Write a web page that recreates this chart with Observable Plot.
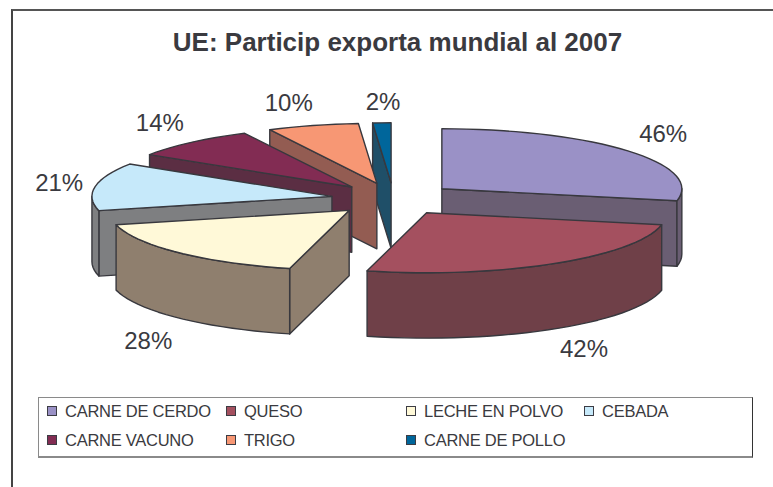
<!DOCTYPE html>
<html lang="es">
<head>
<meta charset="utf-8">
<script src="https://cdn.jsdelivr.net/npm/d3@7"></script>
<script src="https://cdn.jsdelivr.net/npm/@observablehq/plot@0.6"></script>
<style>
  html, body { margin: 0; background: #fff; }
  body { width: 773px; height: 487px; overflow: hidden; font-family: "Liberation Sans", Arial, sans-serif; color: #3a3a40; }
  #page { position: relative; width: 773px; height: 487px; }
  #frame { position: absolute; left: 11px; top: 9px; right: 0; bottom: 0; border-left: 2px solid #444; border-top: 2px solid #555; }
  #title { position: absolute; left: 0; width: 795px; top: 27px; height: 30px; line-height: 30px; text-align: center; font-weight: bold; font-size: 26px; }
  #chart { position: absolute; left: 0; top: 78px; }
  #chart svg { display: block; background: transparent; }
  #legend { position: absolute; left: 38px; top: 397px; width: 713px; height: 58px; border: 1px solid #8a8a8a; border-width: 1.5px 1.5px 2px 1.5px; border-right-color: #333; }
  .item { position: absolute; height: 20px; line-height: 20px; font-size: 16.5px; letter-spacing: -0.26px; white-space: nowrap; }
  .item i { position: absolute; left: -18px; top: 5px; width: 8px; height: 8px; border: 1.5px solid #3c3c44; }
</style>
</head>
<body>
<div id="page">
  <div id="frame"></div>
  <div id="title"></div>
  <div id="chart"></div>
  <div id="legend"></div>
</div>
<script>
const chartTitle = "UE: Particip exporta mundial al 2007";
const categories = ["CARNE DE CERDO", "QUESO", "LECHE EN POLVO", "CEBADA", "CARNE VACUNO", "TRIGO", "CARNE DE POLLO"];
const values = [46, 42, 28, 21, 14, 10, 2];
const topColors = ["#9A91C6", "#A4505F", "#FFF9D8", "#C6E9FA", "#822C53", "#F79774", "#00669B"];
const sideColors = ["#6A5E73", "#6F4048", "#8F7F6E", "#7E7F81", "#5B2E43", "#935C52", "#1F4F68"];
const paintOrder = ["CARNE DE POLLO", "TRIGO", "CARNE DE CERDO", "CARNE VACUNO", "CEBADA", "QUESO", "LECHE EN POLVO"];

// Pie model, in units of the pie radius
const depth = 1.09, explodeX = 0.26, explodeY = 0.27, labelX = 1.19, labelY = 1.4;
const labelNudgeX = [0, 6, 2, 9, -1, -12, 3];
const labelNudgeY = [-1, 0, 6, 1, -1, 1, 3];
const stepRad = Math.PI / 60;
const rx = 240, ry = 60, cx = 393, cy = 198.5, W = 773, H = 312, top0 = 78;

const arcs = d3.pie().sort(null)(values);
const slices = categories.map((name, i) => {
  const a0 = arcs[i].startAngle, a1 = arcs[i].endAngle, mid = (a0 + a1) / 2;
  return {name, i, a0, a1, mid,
    ox: explodeX * Math.sin(mid), oy: -explodeY * Math.cos(mid)};
});

const rimPoint = (s, a, down = 0) => ({x: s.ox + Math.sin(a), y: s.oy - Math.cos(a) + down});
function arcPoints(s, from, to, down = 0) {
  const n = Math.max(1, Math.ceil((to - from) / stepRad));
  return d3.range(n + 1).map(k => rimPoint(s, from + (to - from) * k / n, down));
}
const apex = (s, down = 0) => ({x: s.ox, y: s.oy + down});
const closed = pts => [...pts, pts[0]];
const wall = (s, a) => closed([rimPoint(s, a), apex(s), apex(s, depth), rimPoint(s, a, depth)]);

function sliceMarks(s) {
  const parts = [];
  const style = {x: "x", y: "y", stroke: "#38383e", strokeWidth: 1.4, strokeLinejoin: "round", curve: "linear"};
  const side = {...style, fill: sideColors[s.i]};
  if (Math.cos(s.a0 - Math.PI / 2) < -1e-6) parts.push(Plot.line(wall(s, s.a0), side));
  if (Math.cos(s.a1 + Math.PI / 2) < -1e-6) parts.push(Plot.line(wall(s, s.a1), side));
  const from = Math.max(s.a0, Math.PI / 2), to = Math.min(s.a1, 3 * Math.PI / 2);
  if (to > from) {
    parts.push(Plot.line(closed([...arcPoints(s, from, to), ...arcPoints(s, from, to, depth).reverse()]), side));
  }
  parts.push(Plot.line(closed([apex(s), ...arcPoints(s, s.a0, s.a1)]), {...style, fill: topColors[s.i]}));
  return parts;
}

const labelMarks = slices.map(s => Plot.text([values[s.i] + "%"], {
  x: s.ox + labelX * Math.sin(s.mid),
  y: s.oy - labelY * Math.cos(s.mid) + (Math.cos(s.mid) < 0 ? depth : 0),
  text: d => d,
  dx: labelNudgeX[s.i],
  dy: labelNudgeY[s.i],
  fontSize: 24,
  fill: "#3a3a40",
  fontFamily: "Liberation Sans, Arial, sans-serif"
}));

const plot = Plot.plot({
  width: W, height: H,
  marginTop: 0, marginRight: 0, marginBottom: 0, marginLeft: 0,
  x: {domain: [-cx / rx, (W - cx) / rx], range: [0, W], axis: null},
  y: {domain: [(top0 - cy) / ry, (top0 + H - cy) / ry], range: [0, H], axis: null},
  marks: [
    ...paintOrder.flatMap(name => sliceMarks(slices.find(s => s.name === name))),
    ...labelMarks
  ]
});
document.getElementById("chart").append(plot);
document.getElementById("title").textContent = chartTitle;

// Legend: four columns, reading order across then down
const legend = document.getElementById("legend");
const colLeft = [26, 205, 385, 563], rowTop = [2.5, 31.5];
categories.forEach((name, i) => {
  const div = document.createElement("div");
  div.className = "item";
  div.style.left = colLeft[i % 4] + "px";
  div.style.top = rowTop[Math.floor(i / 4)] + "px";
  div.textContent = name;
  const sw = document.createElement("i");
  sw.style.background = topColors[i];
  div.prepend(sw);
  legend.append(div);
});
</script>
</body>
</html>
